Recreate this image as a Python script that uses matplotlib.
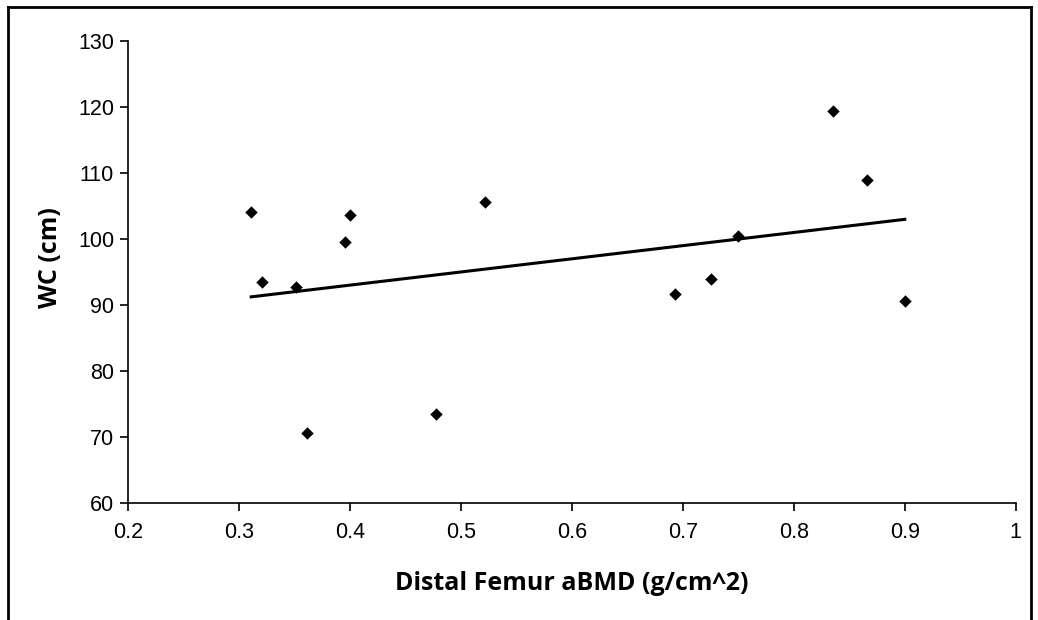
import numpy as np
import matplotlib
matplotlib.use("Agg")
import matplotlib.pyplot as plt
from matplotlib.lines import Line2D

# Data
bmd = [0.311, 0.321, 0.351, 0.361, 0.396, 0.400, 0.478, 0.522,
       0.693, 0.725, 0.750, 0.835, 0.866, 0.900]
wc = [104.1, 93.5, 92.7, 70.5, 99.5, 103.7, 73.4, 105.6,
      91.6, 94.0, 100.5, 119.5, 109.0, 90.6]
x_ticks = [0.2, 0.3, 0.4, 0.5, 0.6, 0.7, 0.8, 0.9, 1.0]
x_tick_labels = ["0.2", "0.3", "0.4", "0.5", "0.6", "0.7", "0.8", "0.9", "1"]
y_ticks = [60, 70, 80, 90, 100, 110, 120, 130]
x_label = "Distal Femur aBMD (g/cm^2)"
y_label = "WC (cm)"

fig = plt.figure(figsize=(10.38, 6.2), dpi=100)
W, H = 1038, 620
ax = fig.add_axes([128 / W, 1 - 502.7 / H, (1015.7 - 128) / W, (502.7 - 41.3) / H])

ax.scatter(bmd, wc, marker="D", s=40, color="black", zorder=3, linewidths=0)

# Linear trend line
slope, intercept = np.polyfit(bmd, wc, 1)
xs = np.array([min(bmd), max(bmd)])
ax.plot(xs, slope * xs + intercept, color="black", lw=2.2, zorder=2)

ax.set_xlim(0.2, 1.0)
ax.set_ylim(60, 130)
ax.set_xticks(x_ticks)
ax.set_xticklabels(x_tick_labels)
ax.set_yticks(y_ticks)
for s in ["top", "right"]:
    ax.spines[s].set_visible(False)
for s in ["left", "bottom"]:
    ax.spines[s].set_linewidth(1.2)
ax.tick_params(direction="out", length=6, width=1.2, labelsize=15.5, pad=4)
for lab in ax.get_xticklabels() + ax.get_yticklabels():
    lab.set_family("Liberation Sans")
ax.tick_params(axis="x", pad=8)

ax.set_xlabel(x_label, fontsize=18, fontweight="bold", family="Open Sans", labelpad=20)
ax.set_ylabel(y_label, fontsize=18, fontweight="bold", family="Open Sans")
ax.yaxis.set_label_coords(-0.073, 0.532)

# Outer frame (left, top, right; bottom runs off the image)
fr = dict(color="black", lw=2.0, transform=fig.transFigure)
fig.add_artist(Line2D([7.5 / W, 7.5 / W], [0, 1 - 6.5 / H], **fr))
fig.add_artist(Line2D([7.5 / W, 1030.5 / W], [1 - 6.5 / H, 1 - 6.5 / H], **fr))
fig.add_artist(Line2D([1030.5 / W, 1030.5 / W], [0, 1 - 6.5 / H], **fr))

fig.savefig("out.png", dpi=100, facecolor="white")
